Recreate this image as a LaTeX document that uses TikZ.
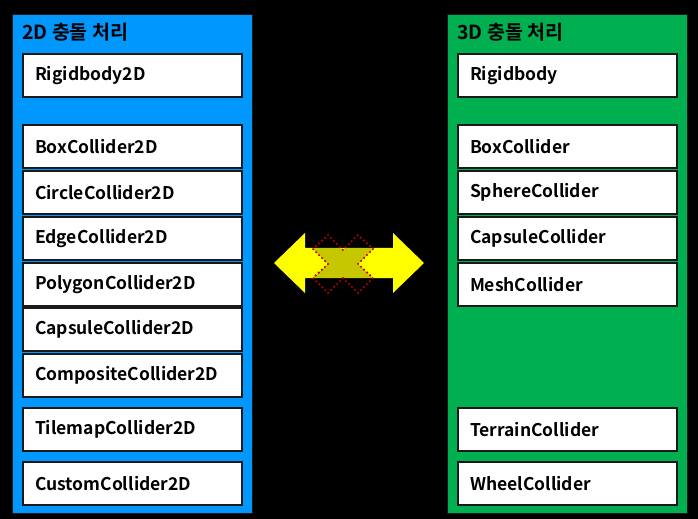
\documentclass[tikz,border=0pt]{standalone}
\usepackage{fontspec}
\usetikzlibrary{calc}
\setmainfont{Noto Sans CJK KR}[UprightFont=* Bold]
\definecolor{pblue}{RGB}{0,152,255}
\definecolor{pgreen}{RGB}{0,176,80}
\definecolor{boxline}{RGB}{25,25,25}
\definecolor{ayellow}{RGB}{255,255,0}
\definecolor{xred}{RGB}{180,0,0}
\tikzset{
  panel/.style={draw=boxline, line width=1bp, anchor=north west, minimum width=240bp, minimum height=499bp, inner sep=0pt},
  title/.style={anchor=west, inner sep=0pt, font=\fontsize{19.5bp}{22bp}\selectfont, text=black},
  item/.style={draw=boxline, line width=2bp, fill=white, anchor=north west, minimum height=43bp,
    text width=195bp, inner xsep=12bp, inner ysep=0pt, align=left, font=\fontsize{17.5bp}{20bp}\selectfont, text=black},
}
\begin{document}
\begin{tikzpicture}[x=1bp,y=-1bp]
\fill[black] (0,0) rectangle (698,519);
\useasboundingbox (0,0) rectangle (698,519);
% panels
\node[panel, fill=pblue] (p2d) at (12,14) {};
\node[panel, fill=pgreen] (p3d) at (447,14) {};
\node[title] (t2d) at (22,32) {2D 충돌 처리};
\node[title] (t3d) at (457,32) {3D 충돌 처리};
% 2D items
\node[item] (rb2) at (22,53) {Rigidbody2D};
\node[item] (bc2) at (22,124) {BoxCollider2D};
\node[item] (cc2) at (22,170) {CircleCollider2D};
\node[item] (ec2) at (22,216) {EdgeCollider2D};
\node[item] (pc2) at (22,262) {PolygonCollider2D};
\node[item] (kc2) at (22,307) {CapsuleCollider2D};
\node[item] (oc2) at (22,353) {CompositeCollider2D};
\node[item] (tc2) at (22,407) {TilemapCollider2D};
\node[item] (uc2) at (22,461) {CustomCollider2D};
% 3D items
\node[item] (rb3) at (457,53) {Rigidbody};
\node[item] (bc3) at (457,124) {BoxCollider};
\node[item] (sc3) at (457,170) {SphereCollider};
\node[item] (kc3) at (457,216) {CapsuleCollider};
\node[item] (mc3) at (457,262) {MeshCollider};
\node[item] (tc3) at (457,407) {TerrainCollider};
\node[item] (wc3) at (457,461) {WheelCollider};
% double arrow
\fill[ayellow] (274,263) -- (305,233) -- (305,248) -- (393,248) -- (393,233) -- (424,263)
  -- (393,293) -- (393,278) -- (305,278) -- (305,293) -- cycle;
% cross
\coordinate (xc) at (343,264);
\fill[black, fill opacity=0.22]
  ($(xc)+(-15,-29)$) -- ($(xc)+(0,-14)$) -- ($(xc)+(15,-29)$) -- ($(xc)+(30,-15)$)
  -- ($(xc)+(15,0)$) -- ($(xc)+(30,14)$) -- ($(xc)+(15,29)$) -- ($(xc)+(0,14)$)
  -- ($(xc)+(-15,29)$) -- ($(xc)+(-30,14)$) -- ($(xc)+(-15,0)$) -- ($(xc)+(-30,-15)$) -- cycle;
\draw[xred, line width=2.4bp, line cap=round, dash pattern=on 0bp off 4.2bp]
  ($(xc)+(-15,-29)$) -- ($(xc)+(0,-14)$) -- ($(xc)+(15,-29)$) -- ($(xc)+(30,-15)$)
  -- ($(xc)+(15,0)$) -- ($(xc)+(30,14)$) -- ($(xc)+(15,29)$) -- ($(xc)+(0,14)$)
  -- ($(xc)+(-15,29)$) -- ($(xc)+(-30,14)$) -- ($(xc)+(-15,0)$) -- ($(xc)+(-30,-15)$) -- cycle;
\end{tikzpicture}
\end{document}
